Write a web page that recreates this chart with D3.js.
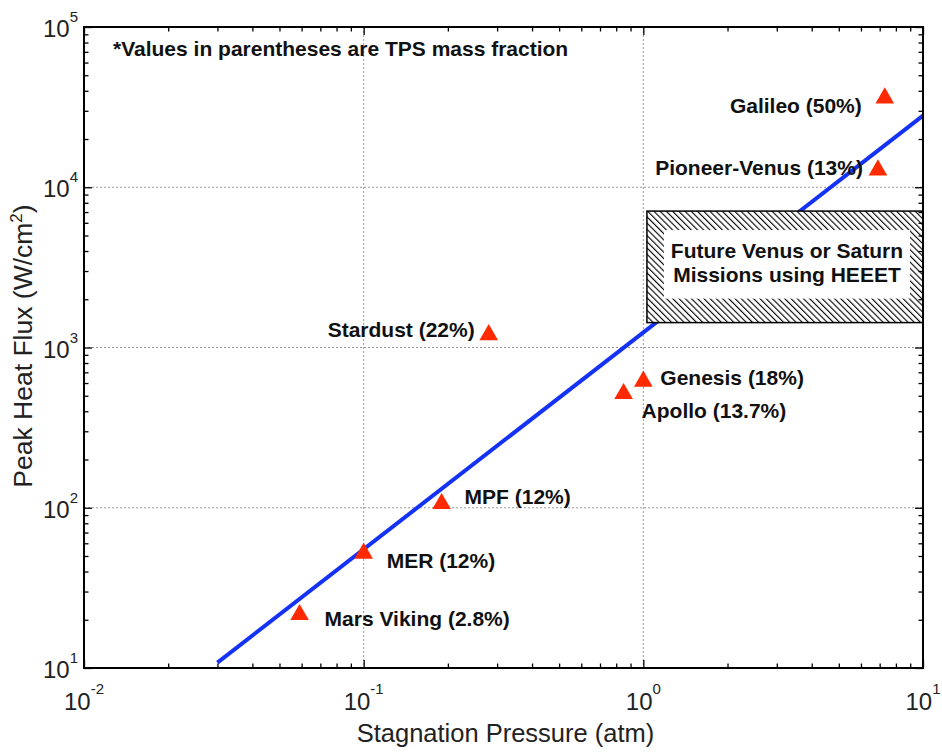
<!DOCTYPE html>
<html>
<head>
<meta charset="utf-8">
<script src="https://cdn.jsdelivr.net/npm/d3@7"></script>
<style>
	body { margin: 0; background: #fff; }
	text { font-family: "Liberation Sans", Arial, sans-serif; }
	.grid line { stroke: #999; stroke-dasharray: 2,2; stroke-width: 1; }
	.axis path { display: none; }
	.axis line { stroke: #000; stroke-width: 1.3; }
	.label { font-weight: bold; font-size: 21px; fill: #111; }
</style>
</head>
<body>
<script>
// missions: stagnation pressure (atm), peak heat flux (W/cm2)
const MISSIONS = ['Mars Viking (2.8%)', 'MER (12%)', 'MPF (12%)', 'Stardust (22%)', 'Apollo (13.7%)', 'Genesis (18%)', 'Pioneer-Venus (13%)', 'Galileo (50%)'];
const PRESSURE = [0.059, 0.1, 0.19, 0.28, 0.85, 1.0, 6.9, 7.3];
const HEAT_FLUX = [21.5, 52, 106, 1200, 515, 615, 12800, 36000];

// fitted trend line
const TREND_X = [0.03, 10];
const TREND_Y = [10.8, 28000];

// HEEET region
const HEEET_X = [1.03, 10];
const HEEET_Y = [1430, 7100];

const X_TICKS = [-2, -1, 0, 1];
const Y_TICKS = [1, 2, 3, 4, 5];

// label offset from the marker, and anchor
const LABEL_POS = [
	[25, 11, 'start'], [23, 15, 'start'], [23, 0, 'start'], [-14, 2, 'end'],
	[18, 24, 'start'], [17, 4, 'start'], [-15, 5, 'end'], [-23, 15, 'end']
];

const W = 942, H = 753;
const M = {top: 27, right: 19, bottom: 85, left: 84};

let svg = d3.select('body').append('svg')
	.attr('width', W)
	.attr('height', H);

let x = d3.scaleLog().domain([1e-2, 1e1]).range([M.left, W - M.right]);
let y = d3.scaleLog().domain([1e1, 1e5]).range([H - M.bottom, M.top]);

let majorX = X_TICKS.map(p => Math.pow(10, p));
let majorY = Y_TICKS.map(p => Math.pow(10, p));
let minorX = [], minorY = [];
X_TICKS.slice(0, -1).forEach(p => d3.range(2, 10).forEach(m => minorX.push(m * Math.pow(10, p))));
Y_TICKS.slice(0, -1).forEach(p => d3.range(2, 10).forEach(m => minorY.push(m * Math.pow(10, p))));

// grid
svg.append('g').attr('class', 'grid')
	.selectAll('line')
	.data(majorX.slice(1, -1))
	.enter().append('line')
	.attr('x1', d => x(d)).attr('x2', d => x(d))
	.attr('y1', M.top).attr('y2', H - M.bottom);
svg.append('g').attr('class', 'grid')
	.selectAll('line')
	.data(majorY.slice(1, -1))
	.enter().append('line')
	.attr('y1', d => y(d)).attr('y2', d => y(d))
	.attr('x1', M.left).attr('x2', W - M.right);

// HEEET box with hatching
let defs = svg.append('defs');
let pat = defs.append('pattern')
	.attr('id', 'hatch')
	.attr('patternUnits', 'userSpaceOnUse')
	.attr('width', 4.4).attr('height', 4.4)
	.attr('patternTransform', 'rotate(-45)');
pat.append('rect').attr('width', 4.4).attr('height', 4.4).attr('fill', '#fff');
pat.append('line')
	.attr('x1', 0).attr('y1', 0).attr('x2', 0).attr('y2', 4.4)
	.attr('stroke', '#000').attr('stroke-width', 2.2);

let bx0 = x(HEEET_X[0]), bx1 = x(HEEET_X[1]);
let by0 = y(HEEET_Y[1]), by1 = y(HEEET_Y[0]);

// trend line
svg.append('path')
	.datum(TREND_X.map((v, i) => [v, TREND_Y[i]]))
	.attr('fill', 'none')
	.attr('stroke', '#1432f5')
	.attr('stroke-width', 4)
	.attr('d', d3.line().x(d => x(d[0])).y(d => y(d[1])));

svg.append('rect')
	.attr('x', bx0).attr('y', by0)
	.attr('width', bx1 - bx0).attr('height', by1 - by0)
	.attr('fill', 'url(#hatch)')
	.attr('stroke', '#000').attr('stroke-width', 1.5);
svg.append('rect')
	.attr('x', bx0 + 17).attr('y', by0 + 19)
	.attr('width', bx1 - bx0 - 30).attr('height', by1 - by0 - 43)
	.attr('fill', '#fff');
let cx = (bx0 + bx1) / 2 + 2;
let heeet = svg.append('text')
	.attr('class', 'label')
	.attr('text-anchor', 'middle')
	.attr('y', by0 + 47);
heeet.append('tspan').attr('x', cx).text('Future Venus or Saturn');
heeet.append('tspan').attr('x', cx).attr('dy', 24).text('Missions using HEEET');

// markers
let tri = d3.symbol().type(d3.symbolTriangle).size(150);
svg.append('g')
	.selectAll('path')
	.data(MISSIONS)
	.enter().append('path')
	.attr('d', tri)
	.attr('fill', '#ff2a00')
	.attr('transform', (m, i) => `translate(${x(PRESSURE[i])},${y(HEAT_FLUX[i])})`);

svg.append('g')
	.selectAll('text')
	.data(MISSIONS)
	.enter().append('text')
	.attr('class', 'label')
	.attr('x', (m, i) => x(PRESSURE[i]) + LABEL_POS[i][0])
	.attr('y', (m, i) => y(HEAT_FLUX[i]) + LABEL_POS[i][1])
	.attr('text-anchor', (m, i) => LABEL_POS[i][2])
	.text(m => m);

svg.append('text')
	.attr('class', 'label')
	.attr('x', 113).attr('y', 56)
	.text('*Values in parentheses are TPS mass fraction');

// axes: inside ticks on all four sides
function drawAxis(axisFn, scale, transform, major, minor) {
	svg.append('g').attr('class', 'axis').attr('transform', transform)
		.call(axisFn(scale).tickValues(major).tickSize(-8).tickFormat(''));
	svg.append('g').attr('class', 'axis').attr('transform', transform)
		.call(axisFn(scale).tickValues(minor).tickSize(-4.5).tickFormat(''));
}
drawAxis(d3.axisBottom, x, `translate(0,${H - M.bottom})`, majorX, minorX);
drawAxis(d3.axisTop, x, `translate(0,${M.top})`, majorX, minorX);
drawAxis(d3.axisLeft, y, `translate(${M.left},0)`, majorY, minorY);
drawAxis(d3.axisRight, y, `translate(${W - M.right},0)`, majorY, minorY);

svg.append('rect')
	.attr('x', M.left).attr('y', M.top)
	.attr('width', W - M.left - M.right).attr('height', H - M.top - M.bottom)
	.attr('fill', 'none').attr('stroke', '#000').attr('stroke-width', 2);

// tick labels
let xl = svg.append('g').selectAll('text')
	.data(X_TICKS)
	.enter().append('text')
	.attr('x', p => x(Math.pow(10, p)))
	.attr('y', H - M.bottom + 42)
	.attr('text-anchor', 'middle')
	.style('font-size', '24px')
	.style('fill', '#222');
xl.append('tspan').text('10');
xl.append('tspan').attr('dy', -16).style('font-size', '15px').text(p => p);

let yl = svg.append('g').selectAll('text')
	.data(Y_TICKS)
	.enter().append('text')
	.attr('x', M.left - 6)
	.attr('y', p => y(Math.pow(10, p)) + 10)
	.attr('text-anchor', 'end')
	.style('font-size', '24px')
	.style('fill', '#222');
yl.append('tspan').text('10');
yl.append('tspan').attr('dy', -15).style('font-size', '15px').text(p => p);

// axis titles
svg.append('text')
	.attr('x', (M.left + W - M.right) / 2 + 2)
	.attr('y', H - 11)
	.attr('text-anchor', 'middle')
	.style('font-size', '25.5px')
	.style('fill', '#222')
	.text('Stagnation Pressure (atm)');

let yt = svg.append('text')
	.attr('transform', `translate(32,346) rotate(-90)`)
	.attr('text-anchor', 'middle')
	.style('font-size', '26.5px')
	.style('fill', '#222');
yt.append('tspan').text('Peak Heat Flux (W/cm');
yt.append('tspan').attr('dy', -10).style('font-size', '17px').text('2');
yt.append('tspan').attr('dy', 10).text(')');
</script>
</body>
</html>
